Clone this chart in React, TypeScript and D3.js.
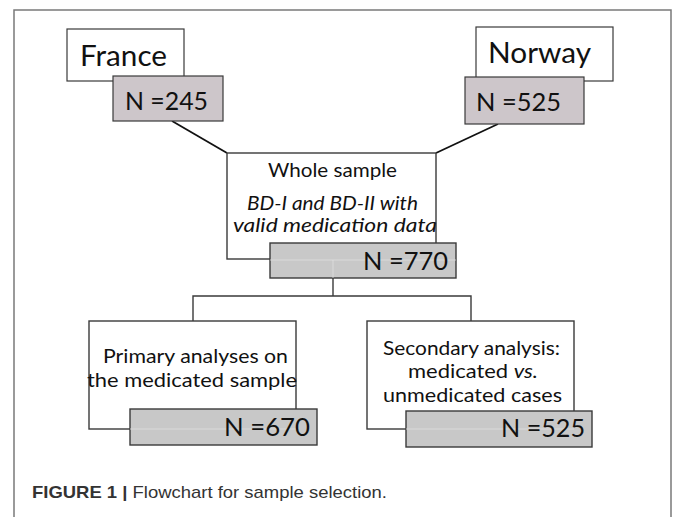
import * as d3 from "d3";

// flowchart content
const sources = ["France", "Norway"];
const sourceCounts = [245, 525];
const wholeTitle = "Whole sample";
const wholeSubtitle = ["BD-I and BD-II with", "valid medication data"];
const wholeCount = 770;
const primaryLines = ["Primary analyses on", "the medicated sample"];
const secondaryLines = ["Secondary analysis:", "medicated |vs.|", "unmedicated cases"];
const analysisCounts = [670, 525];
const captionBold = "FIGURE 1 |";
const captionText = " Flowchart for sample selection.";

const W = 673;
const H = 517;
const boxFont = "Lato, 'Open Sans', sans-serif";
const stroke = "#3a3a3a";

type Box = { x: number; y: number; w: number; h: number };

const layout = {
  sources: [
    { box: { x: 67, y: 29, w: 117, h: 52 }, n: { x: 113, y: 76, w: 110, h: 45 }, label: [80, 66, 87], count: [125, 110, 83], from: [172, 121] },
    { box: { x: 476, y: 27, w: 137, h: 54 }, n: { x: 465, y: 77, w: 119, h: 47 }, label: [488, 63, 103], count: [476, 111, 85], from: [498, 124] },
  ],
  whole: { x: 227, y: 153, w: 209, h: 106 },
  wholeN: { x: 270, y: 243, w: 186, h: 35 },
  wholeText: [[268, 177, 129], [247, 210, 171], [233, 232, 204]],
  wholeCount: [363, 270, 85],
  analyses: [
    {
      box: { x: 89, y: 321, w: 207, h: 108 }, n: { x: 130, y: 409, w: 187, h: 36 },
      lines: [[103, 363, 185], [87, 387, 210]], count: [224, 436, 86],
    },
    {
      box: { x: 367, y: 321, w: 207, h: 108 }, n: { x: 406, y: 411, w: 186, h: 36 },
      lines: [[383, 355, 177], [408, 378, 130], [383, 402, 179]], count: [501, 437, 84],
    },
  ],
};

const line = d3.line<[number, number]>();
const fmtN = (v: number) => `N =${d3.format("d")(v)}`;

function Rect({ b, fill, sw = 1.4 }: { b: Box; fill: string; sw?: number }) {
  return <rect x={b.x} y={b.y} width={b.w} height={b.h} fill={fill} stroke={stroke} strokeWidth={sw} />;
}

function Label({ pos, size, children, italic = false }: { pos: number[]; size: number; children: any; italic?: boolean }) {
  return (
    <text
      x={pos[0]}
      y={pos[1]}
      textLength={pos[2]}
      lengthAdjust="spacingAndGlyphs"
      fontFamily={boxFont}
      fontSize={size}
      fontStyle={italic ? "italic" : "normal"}
      fill="#111"
    >
      {children}
    </text>
  );
}

export default function App() {
  const whole = layout.whole;
  const wholeN = layout.wholeN;
  const split = 296;
  const stemX = 333;
  const leftX = 193;
  const rightX = 471;
  const analysisLines = [primaryLines, secondaryLines];

  return (
    <svg
      width={W}
      height={H}
      viewBox={`0 0 ${W} ${H}`}
      style={{ position: "absolute", left: 0, top: 0, background: "#fff" }}
    >
      {/* outer frame, open at the bottom */}
      <path d={line([[14, H + 2], [14, 10], [671, 10], [671, H + 2]]) ?? ""} fill="none" stroke="#7a7a7a" strokeWidth={1.5} />

      {/* connectors */}
      <g stroke="#111" strokeWidth={1.8} fill="none">
        <path d={line([layout.sources[0].from as [number, number], [whole.x, whole.y]]) ?? ""} />
        <path d={line([layout.sources[1].from as [number, number], [whole.x + whole.w, whole.y]]) ?? ""} />
        <path d={line([[stemX, wholeN.y + wholeN.h], [stemX, split]]) ?? ""} stroke={stroke} strokeWidth={1.4} />
        <path d={line([[leftX, 321], [leftX, split], [rightX, split], [rightX, 321]]) ?? ""} stroke={stroke} strokeWidth={1.4} />
      </g>

      {/* country boxes */}
      {sources.map((s, i) => {
        const L = layout.sources[i];
        return (
          <g key={s}>
            <Rect b={L.box} fill="#fff" sw={1.2} />
            <Label pos={L.label} size={29}>{s}</Label>
            <Rect b={L.n} fill="#cdc6ca" sw={1.2} />
            <Label pos={L.count} size={25}>{fmtN(sourceCounts[i])}</Label>
          </g>
        );
      })}

      {/* whole sample */}
      <Rect b={whole} fill="#fff" />
      <Label pos={layout.wholeText[0]} size={19}>{wholeTitle}</Label>
      {wholeSubtitle.map((t, i) => (
        <Label key={t} pos={layout.wholeText[i + 1]} size={19} italic>{t}</Label>
      ))}
      <Rect b={wholeN} fill="#c8c8c8" />
      <path d={line([[wholeN.x, 260], [wholeN.x + wholeN.w, 260]]) ?? ""} stroke="#e4e4e4" strokeWidth={1} opacity={0.7} />
      <path d={line([[stemX, 260], [stemX, wholeN.y + wholeN.h]]) ?? ""} stroke="#e4e4e4" strokeWidth={1} opacity={0.7} />
      <Label pos={layout.wholeCount} size={25}>{fmtN(wholeCount)}</Label>

      {/* analyses */}
      {analysisCounts.map((c, i) => {
        const A = layout.analyses[i];
        return (
          <g key={i}>
            <Rect b={A.box} fill="#fff" />
            {analysisLines[i].map((t, j) => (
              <Label key={j} pos={A.lines[j]} size={20}>
                {t.split("|").map((part, k) => (
                  <tspan key={k} fontStyle={k % 2 === 1 ? "italic" : "normal"}>{part}</tspan>
                ))}
              </Label>
            ))}
            <Rect b={A.n} fill="#c8c8c8" />
            <path d={line([[A.n.x, A.box.y + A.box.h], [A.box.x + A.box.w, A.box.y + A.box.h]]) ?? ""} stroke="#e4e4e4" strokeWidth={1} opacity={0.7} />
            <Label pos={A.count} size={25}>{fmtN(c)}</Label>
          </g>
        );
      })}

      {/* caption */}
      <text x={32} y={498} textLength={355} lengthAdjust="spacingAndGlyphs" fontFamily="'Liberation Sans', Arial, sans-serif" fontSize={17} fill="#333">
        <tspan fontWeight="bold">{captionBold}</tspan>
        <tspan>{captionText}</tspan>
      </text>
    </svg>
  );
}
